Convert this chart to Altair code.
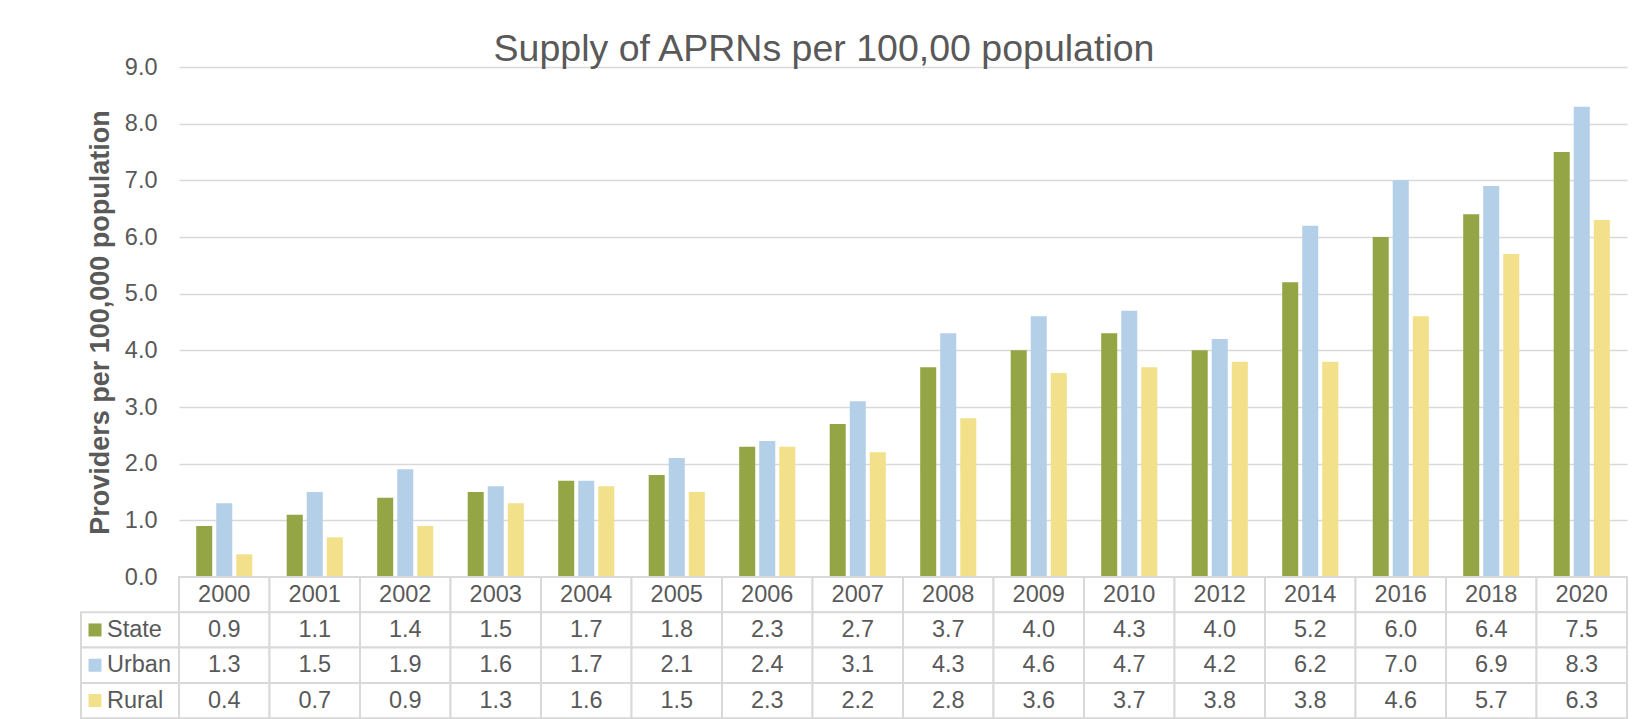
import altair as alt
import pandas as pd

years = ["2000", "2001", "2002", "2003", "2004", "2005", "2006", "2007",
         "2008", "2009", "2010", "2012", "2014", "2016", "2018", "2020"]
series = ["State", "Urban", "Rural"]
state = [0.9, 1.1, 1.4, 1.5, 1.7, 1.8, 2.3, 2.7, 3.7, 4.0, 4.3, 4.0, 5.2, 6.0, 6.4, 7.5]
urban = [1.3, 1.5, 1.9, 1.6, 1.7, 2.1, 2.4, 3.1, 4.3, 4.6, 4.7, 4.2, 6.2, 7.0, 6.9, 8.3]
rural = [0.4, 0.7, 0.9, 1.3, 1.6, 1.5, 2.3, 2.2, 2.8, 3.6, 3.7, 3.8, 3.8, 4.6, 5.7, 6.3]
colors = ["#93A544", "#B4CFE8", "#F2E08A"]
y_ticks = [0, 1, 2, 3, 4, 5, 6, 7, 8, 9]
title_text = "Supply of APRNs per 100,00 population"
y_title = "Providers per 100,000 population"

FONT = "Liberation Sans"
TXT = "#595959"
GRID = "#D9D9D9"
W = 1448
H = 510
ROWH = 35.3

rows = []
for s, vals in zip(series, [state, urban, rural]):
    for y, v in zip(years, vals):
        rows.append({"year": y, "series": s, "value": v})
df = pd.DataFrame(rows)

trows = []
for y in years:
    trows.append({"year": y, "row": "Year", "label": y})
for s, vals in zip(series, [state, urban, rural]):
    for y, v in zip(years, vals):
        trows.append({"year": y, "row": s, "label": f"{v:.1f}"})
tdf = pd.DataFrame(trows)
ldf = pd.DataFrame({"row": series})

color_scale = alt.Scale(domain=series, range=colors)

bars = alt.Chart(df).mark_bar().encode(
    x=alt.X("year:N", sort=years, axis=None,
            scale=alt.Scale(paddingInner=0.38, paddingOuter=0.19)),
    xOffset=alt.XOffset("series:N", sort=series,
                        scale=alt.Scale(paddingInner=0.2, paddingOuter=0)),
    y=alt.Y("value:Q", scale=alt.Scale(domain=[0, 9], nice=False),
            axis=alt.Axis(values=y_ticks, format=".1f", title=y_title,
                          grid=True, gridColor=GRID, gridWidth=1.5,
                          domain=False, ticks=False, labelPadding=22,
                          labelFontSize=23.5, labelColor=TXT, labelFont=FONT,
                          titleFont=FONT, titleFontSize=27, titleFontWeight="bold",
                          titleColor=TXT, titlePadding=10)),
    color=alt.Color("series:N", scale=color_scale, legend=None),
).properties(
    width=W, height=H,
    title=alt.TitleParams(title_text, font=FONT, fontSize=37.5, fontWeight="normal",
                          color=TXT, anchor="middle", dx=-79, offset=-13),
)

row_scale = alt.Scale(domain=["Year"] + series, paddingInner=0, paddingOuter=0)
xs = alt.X("year:N", sort=years, axis=None, scale=alt.Scale(paddingInner=0, paddingOuter=0))
ys = alt.Y("row:N", axis=None, scale=row_scale)

cells = alt.Chart(tdf).mark_rect(fill="white", stroke=GRID, strokeWidth=2).encode(x=xs, y=ys)
texts = alt.Chart(tdf).mark_text(font=FONT, fontSize=23.5, color=TXT).encode(
    x=xs, y=ys, text="label:N")
lcells = alt.Chart(ldf).mark_rect(fill="white", stroke=GRID, strokeWidth=2).encode(
    x=alt.value(-98), x2=alt.value(0), y=ys)
lsq = alt.Chart(ldf).mark_square(size=169, opacity=1).encode(
    x=alt.value(-84), y=ys,
    color=alt.Color("row:N", scale=color_scale, legend=None))
ltext = alt.Chart(ldf).mark_text(font=FONT, fontSize=23.5, color=TXT, align="left").encode(
    x=alt.value(-72), y=ys, text="row:N")

table = alt.layer(cells, texts, lcells, lsq, ltext).properties(width=W, height=ROWH * 4)

chart = alt.vconcat(bars, table, spacing=0, bounds="flush").properties(
    padding={"left": 72, "top": 22, "right": 5, "bottom": 0},
    background="white",
).configure_view(stroke=None)

chart.save("out.html", embed_options={"renderer": "svg", "actions": False})
